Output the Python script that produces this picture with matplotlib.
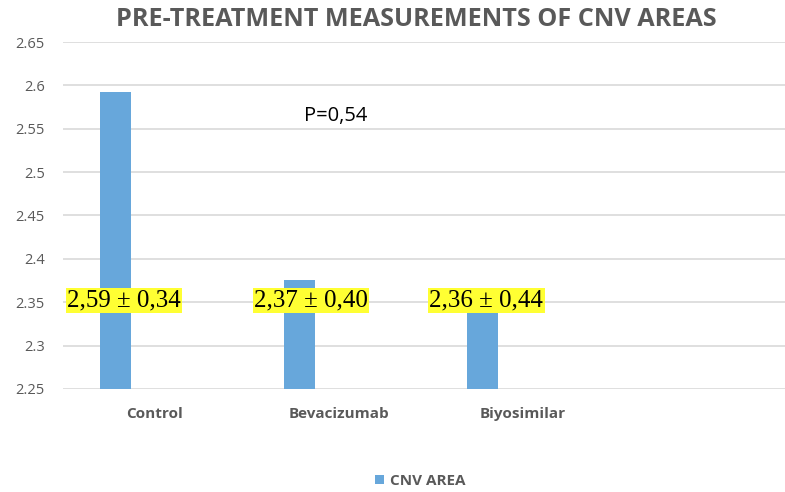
import matplotlib
matplotlib.use("Agg")
import matplotlib.pyplot as plt
from matplotlib.patches import Patch

# ---- data ----
categories = ["Control", "Bevacizumab", "Biyosimilar", ""]
cnv_area = [2.592, 2.376, 2.36, None]
value_labels = ["2,59 \u00b1 0,34", "2,37 \u00b1 0,40", "2,36 \u00b1 0,44"]
yticks = [2.25, 2.3, 2.35, 2.4, 2.45, 2.5, 2.55, 2.6, 2.65]
ytick_labels = ["2.25", "2.3", "2.35", "2.4", "2.45", "2.5", "2.55", "2.6", "2.65"]
title = "PRE-TREATMENT MEASUREMENTS OF CNV AREAS"
p_text = "P=0,54"
series_name = "CNV AREA"

# ---- layout / style ----
W, H = 785, 492
bar_color = "#67A7DB"
grid_color = "#D9D9D9"
text_gray = "#595959"
bar_offset = -0.215
bar_width = 0.17
label_x_offsets = [-0.168, -0.152, -0.196]
label_y = 2.352

fig = plt.figure(figsize=(W / 100, H / 100), dpi=100)
ax = fig.add_axes([63 / W, (H - 389) / H, 735 / W, 347 / H])

xs = [i for i, v in enumerate(cnv_area) if v is not None]
vals = [v for v in cnv_area if v is not None]
ax.bar([x + bar_offset for x in xs], [v - 2.25 for v in vals], bottom=2.25,
       width=bar_width, color=bar_color, zorder=2)

ax.set_xlim(-0.5, len(categories) - 0.5)
ax.set_ylim(2.25, 2.65)
ax.set_yticks(yticks)
ax.set_yticklabels(ytick_labels)
ax.set_xticks(range(len(categories)))
ax.set_xticklabels(categories, fontweight="bold")
for s in ax.spines.values():
    s.set_visible(False)
ax.tick_params(axis="both", length=0, colors=text_gray)
ax.tick_params(axis="y", pad=13, labelsize=10.5)
ax.tick_params(axis="x", pad=13, labelsize=11)
for lbl in ax.get_xticklabels() + ax.get_yticklabels():
    lbl.set_fontfamily("Open Sans")
ax.yaxis.grid(True, color=grid_color, linewidth=1.2, zorder=0)
ax.set_axisbelow(True)

for i, txt in enumerate(value_labels):
    ax.text(xs[i] + label_x_offsets[i], label_y, txt, ha="center", va="center",
            fontsize=18, family="Liberation Serif", color="black", zorder=5,
            bbox=dict(boxstyle="square,pad=0.05", facecolor="#FFFF33", edgecolor="none"))

ax.text(1 + (336 - 339) / 184, 2.6 - (115 - 84) / 868, p_text, ha="center", va="center",
        fontsize=14.5, family="Open Sans", color="black")

fig.text(416 / W, 1 - 19 / H, title, ha="center", va="center", fontsize=18.2,
         fontweight="bold", family="Open Sans", color=text_gray)

handles = [Patch(facecolor=bar_color, edgecolor="none", label=series_name)]
leg = fig.legend(handles=handles, loc="center", bbox_to_anchor=(420 / W, 1 - 481 / H),
                 frameon=False, handlelength=0.6, handleheight=0.6, handletextpad=0.4,
                 prop={"family": "Open Sans", "weight": "bold", "size": 11})
for t in leg.get_texts():
    t.set_color(text_gray)

fig.savefig("out.png", dpi=100)
